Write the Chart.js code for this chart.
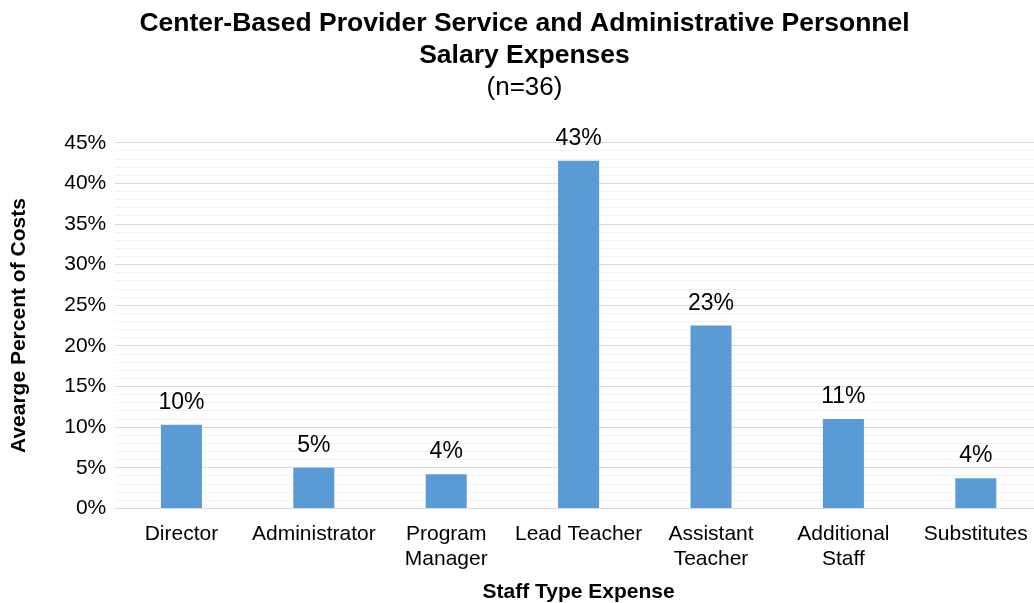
<!DOCTYPE html>
<html>
<head>
<meta charset="utf-8">
<script src="https://cdn.jsdelivr.net/npm/chart.js@4.4.0/dist/chart.umd.min.js"></script>
<style>
  html, body { margin: 0; padding: 0; background: #fff; overflow: hidden; }
  #wrap { width: 1060px; height: 603px; }
</style>
</head>
<body>
<div id="wrap"><canvas id="chart"></canvas></div>
<script>
let categories = ["Director", "Administrator", ["Program", "Manager"], "Lead Teacher", ["Assistant", "Teacher"], ["Additional", "Staff"], "Substitutes"]
let percents = [10.3, 5.0, 4.2, 42.8, 22.5, 11.0, 3.7]
let valueLabels = ["10%", "5%", "4%", "43%", "23%", "11%", "4%"]

Chart.defaults.font.family = "'Liberation Sans', Arial, sans-serif"
Chart.defaults.color = "#000"

// labels over the bars
let barLabels = {
    id: "barLabels",
    afterDatasetsDraw(chart) {
        let ctx = chart.ctx
        let meta = chart.getDatasetMeta(0)
        ctx.save()
        ctx.font = "23px 'Liberation Sans', Arial, sans-serif"
        ctx.fillStyle = "#000"
        ctx.textAlign = "center"
        ctx.textBaseline = "alphabetic"
        meta.data.forEach((bar, i) => {
            ctx.fillText(valueLabels[i], bar.x, bar.y - 16)
        })
        ctx.restore()
    }
}

let canvas = document.querySelector("#chart")

let config = {
    type: 'bar',
    data: {
        labels: categories,
        datasets: [{
            data: percents,
            backgroundColor: '#5b9bd5',
            categoryPercentage: 1,
            barPercentage: 0.31
        }]
    },
    options: {
        responsive: true,
        maintainAspectRatio: false,
        animation: false,
        layout: { padding: { left: 7, right: 18, top: 0, bottom: 0 } },
        plugins: {
            legend: { display: false },
            tooltip: { enabled: false },
            title: {
                display: true,
                text: ["Center-Based Provider Service and Administrative Personnel", "Salary Expenses"],
                font: { size: 26.5, weight: 'bold' },
                padding: { top: 8, bottom: 0 },
                lineHeight: 1.2
            },
            subtitle: {
                display: true,
                text: "(n=36)",
                font: { size: 26 },
                padding: { top: 1, bottom: 39 }
            }
        },
        scales: {
            x: {
                grid: { display: false },
                border: { color: '#d9d9d9' },
                ticks: { font: { size: 21 }, maxRotation: 0, autoSkip: false, padding: 5 },
                title: {
                    display: true,
                    text: "Staff Type Expense",
                    font: { size: 21, weight: 'bold' },
                    padding: { top: 3, bottom: -2 }
                }
            },
            y: {
                min: 0,
                max: 45,
                border: { display: false },
                grid: {
                    drawTicks: false,
                    color: (c) => (c.tick && c.tick.value % 5 === 0) ? '#d9d9d9' : '#f2f2f2'
                },
                ticks: {
                    stepSize: 1,
                    autoSkip: false,
                    font: { size: 21 },
                    padding: 9,
                    callback: (v) => v % 5 === 0 ? v + "%" : ""
                },
                title: {
                    display: true,
                    text: "Avearge Percent of Costs",
                    font: { size: 21, weight: 'bold' },
                    padding: { top: 0, bottom: 23 }
                }
            }
        }
    },
    plugins: [barLabels]
}
const myChart = new Chart(canvas, config)
</script>
</body>
</html>
